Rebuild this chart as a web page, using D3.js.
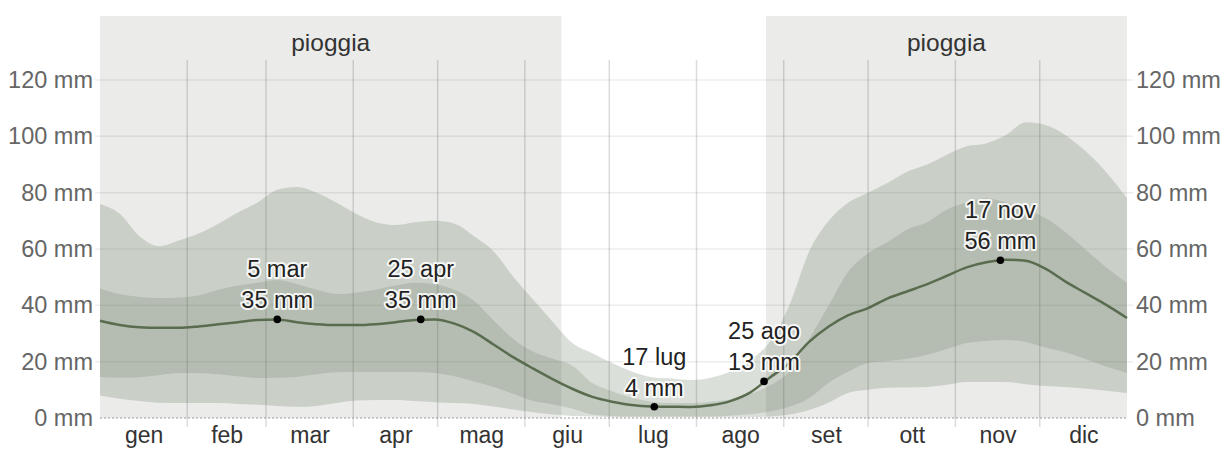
<!DOCTYPE html>
<html>
<head>
<meta charset="utf-8">
<script src="https://cdn.jsdelivr.net/npm/d3@7"></script>
<style>
  html, body { margin: 0; padding: 0; background: #fff; }
  svg { display: block; font-family: "Liberation Sans", Arial, sans-serif; }
  .axis path { display: none; }
  .axis line { display: none; }
</style>
</head>
<body>
<svg id="vis" width="1225" height="451"></svg>
<script>
// day of year samples (0 = 1 gen)
var days = [0,7,14,21,28,35,42,49,56,63,70,77,84,91,98,105,112,119,126,133,140,147,154,161,168,175,182,189,196,203,210,217,224,231,238,245,252,259,266,273,280,287,294,301,308,315,322,329,336,343,350,357,365];
// percentiles of monthly rainfall (mm)
var p90 = [76,72.5,64.5,61,63,65.5,69,73,76.5,81,82,80,76.5,72.5,69.5,68.5,69.5,70,69,64.5,59,50,42,34,26.5,23,19.5,16.5,14.5,14,13.5,14.3,16.5,20.5,27,40,59,70,76.5,80,83.5,87.5,90,93.5,96.5,97.5,100.5,105,104,100.5,95,88,78];
var p75 = [46,44,43,42.6,42.8,43.5,45.5,47,48,49,47.5,45.5,44,44.5,45.5,47,48,47.5,45.5,41.5,34.5,28,23.5,21,18.5,12.4,9.5,7.2,5.8,5.3,5.3,5.8,6.6,8.5,11.5,16.5,28,40,52,58.5,62.5,67,69.5,74,76.5,78,76.5,74,71,66,60,54,48];
var p50 = [34.5,33,32.2,32,32,32.5,33.3,34,34.8,35,34,33.3,33,33,33.3,34,34.8,35,33.5,30.5,26,21.5,17.5,13.7,10.3,7.5,5.8,4.6,4.1,4,3.9,4.5,6,9,14.3,19.5,27,32.5,36.5,39,42.5,45,47.5,50.5,53.5,55.3,56.2,55.8,53,48.5,44.5,40.5,35.5];
var p25 = [14.6,14.3,14.5,15.2,16,16,15.5,14.8,14.2,14.3,14.6,15.5,16.2,16.3,16.3,16.3,16.3,16,14.8,13,11,8.5,6,4.8,3.3,1.2,0.7,0.5,0.5,0.5,0.5,0.5,0.8,1.3,2.3,4,7,12.5,16.5,19.5,20.2,21,22.5,24.5,26.6,27.3,27.7,27,25,23.3,21,18.5,16];
var p10 = [8,6.8,6,5.4,5.3,5.3,5.3,5,4.7,4.3,4,4.3,5.3,6.2,6.4,6.4,6,5.6,5.3,5,4.1,3,2,1.2,0.7,0.5,0.3,0.3,0.3,0.3,0.3,0.3,0.3,0.3,0.5,1.2,2.8,5.5,9,10,10.7,10.8,11,11.8,12.8,12.8,12.8,12,11.4,11,10.5,9.8,8.9];

var monthStarts = [0,31,59,90,120,151,181,212,243,273,304,334,365];
var monthNames = ["gen","feb","mar","apr","mag","giu","lug","ago","set","ott","nov","dic"];
var yTicks = [0,20,40,60,80,100,120];

// rainy season spans (day of year)
var seasonStart = [0, 236.7];
var seasonEnd = [164, 365];
var seasonLabel = ["pioggia", "pioggia"];

// highlighted points
var annDays = [63,114,197,236,320];
var annVals = [35,35,4,13,56];
var annDates = ["5 mar","25 apr","17 lug","25 ago","17 nov"];

var svg = d3.select("#vis");
var x = d3.scaleLinear().domain([0,365]).range([100,1127]);
var y = d3.scaleLinear().domain([0,120]).range([418,80]);

var topShade = 16, topGrid = 60;

// rainy season background
svg.append("g").selectAll("rect")
    .data(seasonStart)
    .enter().append("rect")
    .attr("x", function(d) { return x(d); })
    .attr("y", topShade)
    .attr("width", function(d, i) { return x(seasonEnd[i]) - x(d); })
    .attr("height", y(0) - topShade)
    .attr("fill", "#ebebea");

svg.append("g").selectAll("text")
    .data(seasonStart)
    .enter().append("text")
    .attr("x", function(d, i) { return (x(d) + x(seasonEnd[i])) / 2; })
    .attr("y", 51)
    .attr("text-anchor", "middle")
    .attr("font-size", 24.5)
    .attr("fill", "#333")
    .text(function(d, i) { return seasonLabel[i]; });

// grid
svg.append("g").selectAll("line")
    .data(yTicks.filter(function(d) { return d > 0; }))
    .enter().append("line")
    .attr("x1", 95).attr("x2", 1133)
    .attr("y1", function(d) { return y(d); })
    .attr("y2", function(d) { return y(d); })
    .attr("stroke", "rgba(0,0,0,0.07)")
    .attr("stroke-width", 1.5);

svg.append("g").selectAll("line")
    .data(monthStarts.slice(1, 12))
    .enter().append("line")
    .attr("x1", function(d) { return x(d); })
    .attr("x2", function(d) { return x(d); })
    .attr("y1", topGrid).attr("y2", 427)
    .attr("stroke", "rgba(0,0,0,0.14)")
    .attr("stroke-width", 1.5);

// bands
var idx = d3.range(days.length);
var band = function(lo, hi) {
    return d3.area()
        .x(function(i) { return x(days[i]); })
        .y0(function(i) { return y(lo[i]); })
        .y1(function(i) { return y(hi[i]); })
        .curve(d3.curveMonotoneX);
};

svg.append("path")
    .datum(idx)
    .attr("d", band(p10, p90))
    .attr("fill", "rgb(88,110,80)")
    .attr("fill-opacity", 0.22);

svg.append("path")
    .datum(idx)
    .attr("d", band(p25, p75))
    .attr("fill", "rgb(88,110,80)")
    .attr("fill-opacity", 0.18);

// zero line
svg.append("line")
    .attr("x1", x(0)).attr("x2", x(365))
    .attr("y1", y(0)).attr("y2", y(0))
    .attr("stroke", "#999")
    .attr("stroke-width", 1.2)
    .attr("stroke-dasharray", "2,2");

// median
svg.append("path")
    .datum(idx)
    .attr("d", d3.line()
        .x(function(i) { return x(days[i]); })
        .y(function(i) { return y(p50[i]); })
        .curve(d3.curveMonotoneX))
    .attr("fill", "none")
    .attr("stroke", "#5a6c4f")
    .attr("stroke-width", 2.5);

// axes
var fmt = function(d) { return d + " mm"; };
var left = svg.append("g").attr("class", "axis")
    .attr("transform", "translate(100,0)")
    .call(d3.axisLeft(y).tickValues(yTicks).tickFormat(fmt).tickSize(0).tickPadding(7));
var right = svg.append("g").attr("class", "axis")
    .attr("transform", "translate(1127,0)")
    .call(d3.axisRight(y).tickValues(yTicks).tickFormat(fmt).tickSize(0).tickPadding(9));
svg.selectAll(".axis text")
    .attr("font-size", 23.5)
    .attr("font-family", "Liberation Sans, Arial, sans-serif")
    .attr("fill", "#666");

var mid = monthNames.map(function(m, i) { return (monthStarts[i] + monthStarts[i + 1]) / 2; });
var bottom = svg.append("g").attr("class", "axis xaxis")
    .attr("transform", "translate(0,418)")
    .call(d3.axisBottom(x).tickValues(mid)
        .tickFormat(function(d, i) { return monthNames[i]; })
        .tickSize(0).tickPadding(9));
bottom.selectAll("text")
    .attr("font-size", 23)
    .attr("fill", "#333");

// annotations
var ann = svg.append("g");
ann.selectAll("circle")
    .data(annDays)
    .enter().append("circle")
    .attr("cx", function(d) { return x(d); })
    .attr("cy", function(d, i) { return y(annVals[i]); })
    .attr("r", 3.8)
    .attr("fill", "#000");

var lbl = ann.selectAll("text.ann")
    .data(annDays)
    .enter().append("text")
    .attr("class", "ann")
    .attr("text-anchor", "middle")
    .attr("font-size", 23.5)
    .attr("fill", "#222")
    .attr("stroke", "rgba(255,255,255,0.85)")
    .attr("stroke-width", 4)
    .attr("stroke-linejoin", "round")
    .attr("paint-order", "stroke");
lbl.append("tspan")
    .attr("x", function(d) { return x(d); })
    .attr("y", function(d, i) { return y(annVals[i]) - 42; })
    .text(function(d, i) { return annDates[i]; });
lbl.append("tspan")
    .attr("x", function(d) { return x(d); })
    .attr("y", function(d, i) { return y(annVals[i]) - 11; })
    .text(function(d, i) { return annVals[i] + " mm"; });
</script>
</body>
</html>
